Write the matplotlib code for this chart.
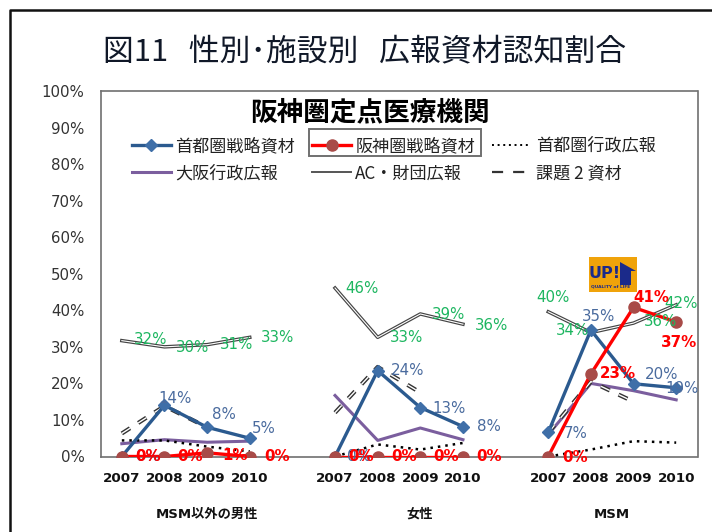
import matplotlib
matplotlib.use("Agg")
import matplotlib.pyplot as plt
import matplotlib.patheffects as pe
from matplotlib.patches import Rectangle, Polygon

plt.rcParams["font.family"] = ["DejaVu Sans", "Noto Sans CJK JP"]

W, H = 712, 532

years = ["2007", "2008", "2009", "2010"]
groups = ["MSM以外の男性", "女性", "MSM"]
nan = float("nan")

tokyo_strategy = [[0, 14, 8, 5], [0, 23.5, 13.4, 8.2], [6.6, 34.6, 19.9, 18.8]]
hanshin_strategy = [[0, 0, 1, 0], [0, 0, 0, 0], [0, 22.6, 40.8, 36.8]]
tokyo_gov = [[4.4, 4.4, 2.7, 1.4], [0, 3.3, 1.9, 3.7], [0, 1.9, 4.2, 3.8]]
osaka_gov = [[3.5, 4.6, 3.9, 4.2], [16.7, 4.4, 7.8, 4.6], [6.0, 20, 18, 15.5]]
ac_zaidan = [[31.7, 30, 30.6, 32.6], [46.1, 32.6, 39, 36.2], [39.6, 33.9, 36.5, 41.5]]
kadai2 = [[6.3, 13.8, 8, nan], [12, 24.5, 17.5, nan], [6.5, 20.5, 15, nan]]

legend_names = ["首都圏戦略資材", "阪神圏戦略資材", "首都圏行政広報",
                "大阪行政広報", "AC・財団広報", "課題 2 資材"]

# label offsets from the point, in pixels
tokyo_offsets = [[(26, 0), (11, 7), (17, 13), (14, 10)],
                 [(24, 0), (30, 0), (29, -1), (26, 0)],
                 [(27, -1), (8, 14), (28, 9), (6, -1)]]
hanshin_offsets = [[(26, 0), (26, 0), (28, -3), (27, 0)],
                   [(26, 0), (26, 0), (26, 0), (26, 0)],
                   [(27, -1), (27, 0), (18, 10), (3, -21)]]
ac_offsets = [[(29, 1), (28, -1), (29, 0), (28, 0)],
              [(27, 0), (29, 0), (28, -1), (29, -1)],
              [(5, 14), (-18, 2), (27, 2), (5, 1)]]

fig = plt.figure(figsize=(W / 100, H / 100), dpi=100)
ax = fig.add_axes([100.5 / W, (H - 456.5) / H, 597 / W, 365.5 / H])


def draw(values, **style):
    lines = []
    for g, vals in enumerate(values):
        xs = [g * 5 + i for i in range(4)]
        lines += ax.plot(xs, vals, **style)
    return lines[0]


def labels(values, offsets, color, weight="normal"):
    for g, vals in enumerate(values):
        for i, v in enumerate(vals):
            ax.annotate(f"{v:.0f}%", (g * 5 + i, v), xytext=offsets[g][i],
                        textcoords="offset pixels", ha="center", va="center",
                        color=color, fontsize=10.8, fontweight=weight,
                        annotation_clip=False, zorder=8)


double_ac = [pe.withStroke(linewidth=2.5, foreground="#444444")]
double_dash = [pe.withStroke(linewidth=3, foreground="#333333")]

h_ac = draw(ac_zaidan, color="white", lw=0.8, path_effects=double_ac, zorder=2)
h_osaka = draw(osaka_gov, color="#7B5E9E", lw=2.2, zorder=3)
h_kadai = draw(kadai2, color="white", lw=1, dashes=(7, 7), path_effects=double_dash, zorder=3)
h_gov = draw(tokyo_gov, color="black", lw=1.8, linestyle=(0, (1, 2)), zorder=3)
h_tokyo = draw(tokyo_strategy, color="#2B5A8F", lw=2.4, marker="D", ms=6.5,
               mfc="#3F6FA8", mec="#3F6FA8", zorder=4)
h_hanshin = draw(hanshin_strategy, color="#FF0000", lw=2.4, marker="o", ms=8,
                 mfc="#A84B48", mec="#A84B48", zorder=5)

labels(ac_zaidan, ac_offsets, "#1DB660")
labels(tokyo_strategy, tokyo_offsets, "#4A6B9E")
labels(hanshin_strategy, hanshin_offsets, "#FF0000", weight="bold")

ax.set_xlim(-0.5, 13.5)
ax.set_ylim(0, 100)
ax.set_yticks(range(0, 101, 10))
ax.set_yticklabels([f"{v}%" for v in range(0, 101, 10)], fontsize=10.8, color="#333333")
ax.set_xticks([g * 5 + i for g in range(3) for i in range(4)])
ax.set_xticklabels(years * 3, fontsize=9.7, fontweight="bold", color="#111111")
ax.tick_params(axis="y", length=0, pad=11.5)
ax.tick_params(axis="x", length=0, pad=11)
for s in ax.spines.values():
    s.set_color("#707070")
    s.set_linewidth(1.2)

handles = [h_tokyo, h_hanshin, h_gov, h_osaka, h_ac, h_kadai]
order = [0, 3, 1, 4, 2, 5]
leg = fig.legend([handles[i] for i in order], [legend_names[i] for i in order],
                 ncol=3, frameon=False, loc="upper left",
                 bbox_to_anchor=(132 / W, 1 - 137 / H), bbox_transform=fig.transFigure,
                 borderaxespad=0, borderpad=0, handlelength=2.28,
                 handletextpad=0.25, columnspacing=1.0, labelspacing=0.54,
                 prop={"family": ["Noto Sans CJK JP", "DejaVu Sans"], "size": 12.3})
for t in leg.get_texts():
    t.set_color("#222222")
# legend keys are drawn plainer than the lines in the plot
gov_handle, ac_handle, kadai_handle = leg.legend_handles[4], leg.legend_handles[3], leg.legend_handles[5]
gov_handle.set_linewidth(1.4)
gov_handle.set_linestyle((0, (1, 1.9)))
ac_handle.set_path_effects([])
ac_handle.set_color("#555555")
ac_handle.set_linewidth(1.4)
kadai_handle.set_path_effects([])
kadai_handle.set_color("#333333")
kadai_handle.set_linewidth(1.6)
kadai_handle.set_dashes((5, 4.5))

# box around the selected legend entry
fig.add_artist(Rectangle((309 / W, 1 - 156 / H), 172 / W, 27 / H, transform=fig.transFigure,
                         fill=False, ec="#707070", lw=1.4))

# outer frame of the slide
fig.add_artist(plt.Line2D([10 / W, 10 / W, 1], [0, 1 - 9.5 / H, 1 - 9.5 / H],
                          transform=fig.transFigure, color="#111111", lw=1.8))

fig.text(103 / W, 1 - 52 / H, "図11   性別･施設別   広報資材認知割合", fontsize=22.2,
         family=["Noto Sans CJK JP", "DejaVu Sans"], color="#101828", va="center", ha="left")
fig.text(370 / W, 1 - 113 / H, "阪神圏定点医療機関", fontsize=19.2, fontweight="bold",
         family=["Noto Sans CJK JP", "DejaVu Sans"], color="black", va="center", ha="center")

for g, x in zip(groups, [207, 420, 612]):
    fig.text(x / W, 1 - 514 / H, g, fontsize=9.5, fontweight="bold", va="center", ha="center",
             family=["DejaVu Sans", "Noto Sans CJK JP"], color="#111111")

# UP! logo
fig.add_artist(Rectangle((589 / W, 1 - 292 / H), 48 / W, 35 / H, transform=fig.transFigure,
                         fc="#F0A30A", ec="none", zorder=6))
fig.add_artist(Polygon([(620 / W, 1 - 262 / H), (636 / W, 1 - 271 / H), (631 / W, 1 - 271 / H),
                        (631 / W, 1 - 285 / H), (620 / W, 1 - 285 / H)],
                       transform=fig.transFigure, fc="#1B2A8A", ec="none", zorder=7))
fig.text(605 / W, 1 - 274 / H, "UP!", fontsize=11.5, fontweight="bold", color="#1B2A8A",
         va="center", ha="center", zorder=8)
fig.text(611 / W, 1 - 286 / H, "QUALITY of LIFE", fontsize=3.2, fontweight="bold", color="#1B2A8A",
         va="center", ha="center", zorder=8)

fig.savefig("out.png", dpi=100)
